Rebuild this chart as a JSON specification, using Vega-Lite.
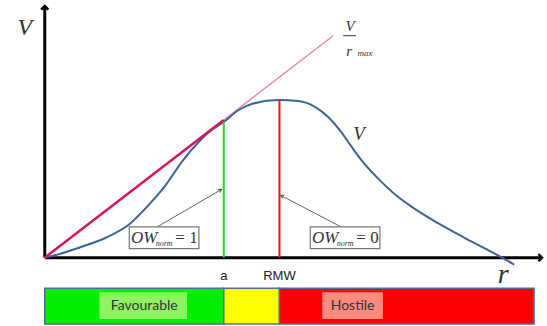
{
  "$schema": "https://vega.github.io/schema/vega-lite/v6.json",
  "width": 547,
  "height": 326,
  "padding": 0,
  "autosize": {"type": "fit", "contains": "padding"},
  "background": "white",
  "config": {"view": {"stroke": null}},
  "datasets": {
    "curve": [
      {"r": 0, "V": 0}, {"r": 15, "V": 3.7}, {"r": 35, "V": 10.3}, {"r": 62, "V": 20.3},
      {"r": 85, "V": 33.7}, {"r": 105, "V": 53.7}, {"r": 122, "V": 73.7}, {"r": 138, "V": 97},
      {"r": 155, "V": 117}, {"r": 168, "V": 129}, {"r": 180, "V": 137}, {"r": 195, "V": 149},
      {"r": 208, "V": 155}, {"r": 235, "V": 159}, {"r": 255, "V": 158}, {"r": 272, "V": 152},
      {"r": 285, "V": 142}, {"r": 298, "V": 127}, {"r": 305, "V": 117}, {"r": 318, "V": 99},
      {"r": 335, "V": 80}, {"r": 352, "V": 64}, {"r": 368, "V": 52}, {"r": 395, "V": 35},
      {"r": 422, "V": 20}, {"r": 445, "V": 8}, {"r": 458, "V": 1}, {"r": 472, "V": -7}
    ],
    "zones": [
      {"zone": "Favourable", "r": 0, "r2": 180, "V": -31, "V2": -67},
      {"zone": "Neutral", "r": 180, "r2": 236, "V": -31, "V2": -67},
      {"zone": "Hostile", "r": 236, "r2": 492, "V": -31, "V2": -67}
    ],
    "zoneLabels": [
      {"label": "Favourable", "r": 55, "r2": 143, "rc": 100, "V": -35, "V2": -62, "Vc": -49},
      {"label": "Hostile", "r": 279, "r2": 340, "rc": 309.5, "V": -35, "V2": -62, "Vc": -49}
    ],
    "axes": [
      {"r": 0, "V": 0, "r2": 500, "V2": 0},
      {"r": 0, "V": 0, "r2": 0, "V2": 254}
    ],
    "markers": [
      {"name": "a", "r": 180, "V": 137, "V0": 0, "Vl": -19},
      {"name": "RMW", "r": 236, "V": 159, "V0": 0, "Vl": -19}
    ],
    "owBoxes": [
      {"ow": "= 1", "r": 85, "r2": 155, "V": 9, "V2": 31, "Vt": 20, "Vs": 14, "rOW": 100, "rN": 120, "rEq": 142.5, "ar": 113, "aV": 31, "tr": 178, "tV": 69},
      {"ow": "= 0", "r": 267, "r2": 337, "V": 9, "V2": 31, "Vt": 20, "Vs": 14, "rOW": 282, "rN": 302, "rEq": 324.5, "ar": 298, "aV": 31, "tr": 237, "tV": 63}
    ]
  },
  "layer": [
    {
      "data": {"name": "zones"},
      "mark": {"type": "rect", "stroke": "#4d6f96", "strokeWidth": 1.5},
      "encoding": {
        "x": {"field": "r", "type": "quantitative", "scale": {"domain": [-45, 502], "nice": false, "zero": false}, "axis": null},
        "x2": {"field": "r2"},
        "y": {"field": "V", "type": "quantitative", "scale": {"domain": [-69, 257], "nice": false, "zero": false}, "axis": null},
        "y2": {"field": "V2"},
        "color": {"field": "zone", "type": "nominal", "scale": {"domain": ["Favourable", "Neutral", "Hostile", "a", "RMW"], "range": ["#00ee00", "#ffff00", "#ff0000", "#22dd22", "#ff1010"]}, "legend": null}
      }
    },
    {
      "data": {"name": "zoneLabels"},
      "mark": {"type": "rect"},
      "encoding": {
        "x": {"field": "r", "type": "quantitative", "scale": {"domain": [-45, 502], "nice": false, "zero": false}, "axis": null},
        "x2": {"field": "r2"},
        "y": {"field": "V", "type": "quantitative", "scale": {"domain": [-69, 257], "nice": false, "zero": false}, "axis": null},
        "y2": {"field": "V2"},
        "fill": {"field": "label", "type": "nominal", "scale": {"domain": ["Favourable", "Hostile"], "range": ["#8ff25f", "#ff8a80"]}, "legend": null}
      }
    },
    {
      "data": {"name": "zoneLabels"},
      "mark": {"type": "text", "font": "Lato", "fontSize": 14, "color": "#333333"},
      "encoding": {
        "x": {"field": "rc", "type": "quantitative", "scale": {"domain": [-45, 502], "nice": false, "zero": false}, "axis": null},
        "y": {"field": "Vc", "type": "quantitative", "scale": {"domain": [-69, 257], "nice": false, "zero": false}, "axis": null},
        "text": {"field": "label"}
      }
    },
    {
      "data": {"name": "axes"},
      "mark": {"type": "rule", "color": "black", "strokeWidth": 3},
      "encoding": {
        "x": {"field": "r", "type": "quantitative", "scale": {"domain": [-45, 502], "nice": false, "zero": false}, "axis": null},
        "x2": {"field": "r2"},
        "y": {"field": "V", "type": "quantitative", "scale": {"domain": [-69, 257], "nice": false, "zero": false}, "axis": null},
        "y2": {"field": "V2"}
      }
    },
    {
      "data": {"values": [{"r": 0, "V": 254}]},
      "mark": {"type": "point", "shape": "M-0.6,0.6L0,0L0.6,0.6", "filled": false, "stroke": "black", "strokeWidth": 2.5, "size": 144, "opacity": 1},
      "encoding": {
        "x": {"field": "r", "type": "quantitative", "scale": {"domain": [-45, 502], "nice": false, "zero": false}, "axis": null},
        "y": {"field": "V", "type": "quantitative", "scale": {"domain": [-69, 257], "nice": false, "zero": false}, "axis": null}
      }
    },
    {
      "data": {"values": [{"r": 500, "V": 0}]},
      "mark": {"type": "point", "shape": "M-0.6,-0.6L0,0L-0.6,0.6", "filled": false, "stroke": "black", "strokeWidth": 2.5, "size": 144, "opacity": 1},
      "encoding": {
        "x": {"field": "r", "type": "quantitative", "scale": {"domain": [-45, 502], "nice": false, "zero": false}, "axis": null},
        "y": {"field": "V", "type": "quantitative", "scale": {"domain": [-69, 257], "nice": false, "zero": false}, "axis": null}
      }
    },
    {
      "data": {"values": [{"r": 180, "V": 139}, {"r": 290, "V": 224}]},
      "mark": {"type": "line", "color": "#f07fb4", "strokeWidth": 1.3},
      "encoding": {
        "x": {"field": "r", "type": "quantitative", "scale": {"domain": [-45, 502], "nice": false, "zero": false}, "axis": null},
        "y": {"field": "V", "type": "quantitative", "scale": {"domain": [-69, 257], "nice": false, "zero": false}, "axis": null}
      }
    },
    {
      "data": {"name": "curve"},
      "mark": {"type": "line", "color": "#3d6494", "strokeWidth": 2, "interpolate": "monotone"},
      "encoding": {
        "x": {"field": "r", "type": "quantitative", "scale": {"domain": [-45, 502], "nice": false, "zero": false}, "axis": null},
        "y": {"field": "V", "type": "quantitative", "scale": {"domain": [-69, 257], "nice": false, "zero": false}, "axis": null}
      }
    },
    {
      "data": {"values": [{"r": 0, "V": 0}, {"r": 180, "V": 139}]},
      "mark": {"type": "line", "color": "#d6135f", "strokeWidth": 2.5},
      "encoding": {
        "x": {"field": "r", "type": "quantitative", "scale": {"domain": [-45, 502], "nice": false, "zero": false}, "axis": null},
        "y": {"field": "V", "type": "quantitative", "scale": {"domain": [-69, 257], "nice": false, "zero": false}, "axis": null}
      }
    },
    {
      "data": {"name": "markers"},
      "mark": {"type": "rule", "strokeWidth": 2},
      "encoding": {
        "x": {"field": "r", "type": "quantitative", "scale": {"domain": [-45, 502], "nice": false, "zero": false}, "axis": null},
        "y": {"field": "V", "type": "quantitative", "scale": {"domain": [-69, 257], "nice": false, "zero": false}, "axis": null},
        "y2": {"field": "V0"},
        "color": {"field": "name", "type": "nominal", "scale": {"domain": ["Favourable", "Neutral", "Hostile", "a", "RMW"], "range": ["#00ee00", "#ffff00", "#ff0000", "#22dd22", "#ff1010"]}, "legend": null}
      }
    },
    {
      "data": {"name": "markers"},
      "mark": {"type": "text", "font": "Liberation Sans", "fontSize": 13, "color": "#222222"},
      "encoding": {
        "x": {"field": "r", "type": "quantitative", "scale": {"domain": [-45, 502], "nice": false, "zero": false}, "axis": null},
        "y": {"field": "Vl", "type": "quantitative", "scale": {"domain": [-69, 257], "nice": false, "zero": false}, "axis": null},
        "text": {"field": "name"}
      }
    },
    {
      "data": {"name": "owBoxes"},
      "mark": {"type": "rule", "color": "#666666", "strokeWidth": 1},
      "encoding": {
        "x": {"field": "ar", "type": "quantitative", "scale": {"domain": [-45, 502], "nice": false, "zero": false}, "axis": null},
        "y": {"field": "aV", "type": "quantitative", "scale": {"domain": [-69, 257], "nice": false, "zero": false}, "axis": null},
        "x2": {"field": "tr"},
        "y2": {"field": "tV"}
      }
    },
    {
      "data": {"values": [{"r": 178, "V": 69}]},
      "mark": {"type": "point", "shape": "M-0.5,1L0,0L0.5,1", "filled": false, "stroke": "#555555", "strokeWidth": 1, "size": 49, "angle": 60, "opacity": 1},
      "encoding": {
        "x": {"field": "r", "type": "quantitative", "scale": {"domain": [-45, 502], "nice": false, "zero": false}, "axis": null},
        "y": {"field": "V", "type": "quantitative", "scale": {"domain": [-69, 257], "nice": false, "zero": false}, "axis": null}
      }
    },
    {
      "data": {"values": [{"r": 237, "V": 63}]},
      "mark": {"type": "point", "shape": "M-0.5,1L0,0L0.5,1", "filled": false, "stroke": "#555555", "strokeWidth": 1, "size": 49, "angle": 297, "opacity": 1},
      "encoding": {
        "x": {"field": "r", "type": "quantitative", "scale": {"domain": [-45, 502], "nice": false, "zero": false}, "axis": null},
        "y": {"field": "V", "type": "quantitative", "scale": {"domain": [-69, 257], "nice": false, "zero": false}, "axis": null}
      }
    },
    {
      "data": {"name": "owBoxes"},
      "mark": {"type": "rect", "fill": "white", "stroke": "#777777", "strokeWidth": 1.2},
      "encoding": {
        "x": {"field": "r", "type": "quantitative", "scale": {"domain": [-45, 502], "nice": false, "zero": false}, "axis": null},
        "x2": {"field": "r2"},
        "y": {"field": "V", "type": "quantitative", "scale": {"domain": [-69, 257], "nice": false, "zero": false}, "axis": null},
        "y2": {"field": "V2"}
      }
    },
    {
      "data": {"name": "owBoxes"},
      "mark": {"type": "text", "font": "Liberation Serif", "fontStyle": "italic", "fontSize": 17, "color": "#333333"},
      "encoding": {
        "x": {"field": "rOW", "type": "quantitative", "scale": {"domain": [-45, 502], "nice": false, "zero": false}, "axis": null},
        "y": {"field": "Vt", "type": "quantitative", "scale": {"domain": [-69, 257], "nice": false, "zero": false}, "axis": null},
        "text": {"value": "OW"}
      }
    },
    {
      "data": {"name": "owBoxes"},
      "mark": {"type": "text", "font": "Liberation Serif", "fontStyle": "italic", "fontSize": 8, "color": "#333333"},
      "encoding": {
        "x": {"field": "rN", "type": "quantitative", "scale": {"domain": [-45, 502], "nice": false, "zero": false}, "axis": null},
        "y": {"field": "Vs", "type": "quantitative", "scale": {"domain": [-69, 257], "nice": false, "zero": false}, "axis": null},
        "text": {"value": "norm"}
      }
    },
    {
      "data": {"name": "owBoxes"},
      "mark": {"type": "text", "font": "Liberation Serif", "fontSize": 17, "color": "#333333"},
      "encoding": {
        "x": {"field": "rEq", "type": "quantitative", "scale": {"domain": [-45, 502], "nice": false, "zero": false}, "axis": null},
        "y": {"field": "Vt", "type": "quantitative", "scale": {"domain": [-69, 257], "nice": false, "zero": false}, "axis": null},
        "text": {"field": "ow"}
      }
    },
    {
      "data": {"values": [{"t": "V", "r": -20, "V": 232}]},
      "mark": {"type": "text", "font": "Liberation Serif", "fontStyle": "italic", "fontSize": 24, "color": "#333333"},
      "encoding": {
        "x": {"field": "r", "type": "quantitative", "scale": {"domain": [-45, 502], "nice": false, "zero": false}, "axis": null},
        "y": {"field": "V", "type": "quantitative", "scale": {"domain": [-69, 257], "nice": false, "zero": false}, "axis": null},
        "text": {"field": "t"}
      }
    },
    {
      "data": {"values": [{"t": "V", "r": 316, "V": 125}]},
      "mark": {"type": "text", "font": "Liberation Serif", "fontStyle": "italic", "fontSize": 19, "color": "#333333"},
      "encoding": {
        "x": {"field": "r", "type": "quantitative", "scale": {"domain": [-45, 502], "nice": false, "zero": false}, "axis": null},
        "y": {"field": "V", "type": "quantitative", "scale": {"domain": [-69, 257], "nice": false, "zero": false}, "axis": null},
        "text": {"field": "t"}
      }
    },
    {
      "data": {"values": [{"t": "r", "r": 461, "V": -18}]},
      "mark": {"type": "text", "font": "Liberation Serif", "fontStyle": "italic", "fontSize": 28, "color": "#333333"},
      "encoding": {
        "x": {"field": "r", "type": "quantitative", "scale": {"domain": [-45, 502], "nice": false, "zero": false}, "axis": null},
        "y": {"field": "V", "type": "quantitative", "scale": {"domain": [-69, 257], "nice": false, "zero": false}, "axis": null},
        "text": {"field": "t"}
      }
    },
    {
      "data": {"values": [{"t": "V", "r": 307, "V": 234}, {"t": "r", "r": 306, "V": 209}]},
      "mark": {"type": "text", "font": "Liberation Serif", "fontStyle": "italic", "fontSize": 15, "color": "#333333"},
      "encoding": {
        "x": {"field": "r", "type": "quantitative", "scale": {"domain": [-45, 502], "nice": false, "zero": false}, "axis": null},
        "y": {"field": "V", "type": "quantitative", "scale": {"domain": [-69, 257], "nice": false, "zero": false}, "axis": null},
        "text": {"field": "t"}
      }
    },
    {
      "data": {"values": [{"t": "max", "r": 322, "V": 207}]},
      "mark": {"type": "text", "font": "Liberation Serif", "fontStyle": "italic", "fontSize": 9, "color": "#333333"},
      "encoding": {
        "x": {"field": "r", "type": "quantitative", "scale": {"domain": [-45, 502], "nice": false, "zero": false}, "axis": null},
        "y": {"field": "V", "type": "quantitative", "scale": {"domain": [-69, 257], "nice": false, "zero": false}, "axis": null},
        "text": {"field": "t"}
      }
    },
    {
      "data": {"values": [{"r": 300, "V": 224, "r2": 313}]},
      "mark": {"type": "rule", "color": "#333333", "strokeWidth": 1},
      "encoding": {
        "x": {"field": "r", "type": "quantitative", "scale": {"domain": [-45, 502], "nice": false, "zero": false}, "axis": null},
        "x2": {"field": "r2"},
        "y": {"field": "V", "type": "quantitative", "scale": {"domain": [-69, 257], "nice": false, "zero": false}, "axis": null}
      }
    }
  ]
}
